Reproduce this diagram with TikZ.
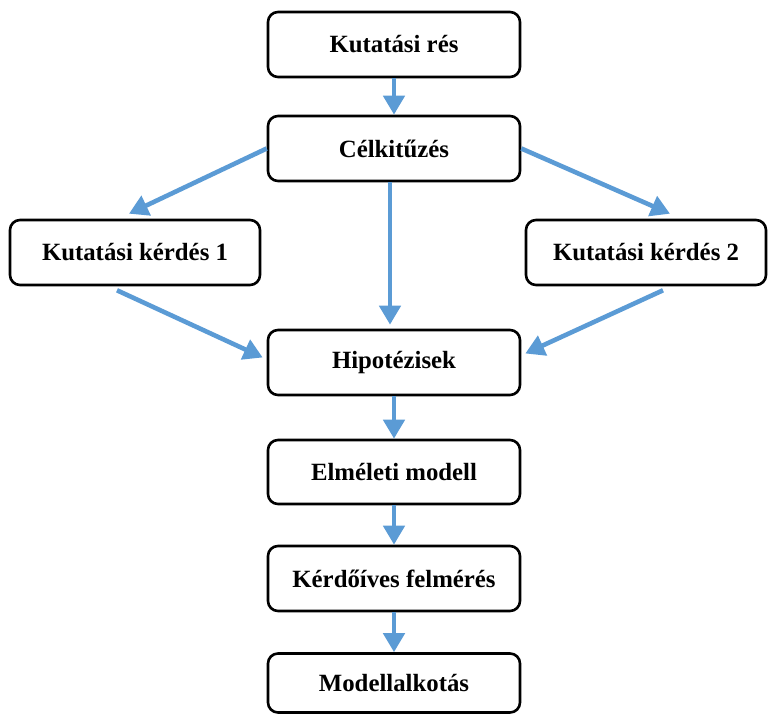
\documentclass[tikz,border=0pt]{standalone}
\usepackage{fontspec}
\setmainfont{Liberation Serif}
\usetikzlibrary{arrows.meta}
\usetikzlibrary{calc}
\definecolor{flowblue}{HTML}{5B9BD5}

\begin{document}
\begin{tikzpicture}[x=1pt,y=-1pt,
    box/.style={draw,line width=2.6pt,rounded corners=10pt,align=center,
        minimum width=252pt,minimum height=65pt,inner sep=0pt,
        font=\fontsize{24.8}{28}\selectfont\bfseries},
    link/.style={draw=flowblue,line width=4.6pt,
        -{Triangle[width=21pt,length=19pt]}}]
    \useasboundingbox (0,0) rectangle (772,714);

    \node[box] (res) at (394,44.5) {Kutatási rés};
    \node[box] (cel) at (394,148.5) {Célkitűzés};
    \node[box,minimum width=250pt] (k1) at (135,252.5) {Kutatási kérdés 1};
    \node[box,minimum width=240pt] (k2) at (646,252.5) {Kutatási kérdés 2};
    \node[box] (hip) at (394,362.5) {Hipotézisek};
    \node[box,minimum height=64pt] (elm) at (394,472) {Elméleti modell};
    \node[box] (ker) at (394,578.5) {Kérdőíves felmérés};
    \node[box,minimum height=59pt] (mod) at (394,683) {Modellalkotás};

    %\draw[link] (res) to (cel);
    \draw[link] (res.south) to (cel.north);
    \draw[link] (cel.west) to ($(k1.north)+(-6,-5)$);
    \draw[link] (cel.east) to ($(k2.north)+(24,-5)$);
    \draw[link] ($(cel.south)+(-4,0)$) to ($(hip.north)+(-4,-4)$);
    \draw[link] ($(k1.south)+(-18,4)$) to ($(hip.west)+(-4,-5)$);
    \draw[link] ($(k2.south)+(17,4)$) to ($(hip.east)+(4,-9)$);
    \draw[link] (hip.south) to (elm.north);
    \draw[link] (elm.south) to (ker.north);
    \draw[link] (ker.south) to (mod.north);
\end{tikzpicture}
\end{document}
